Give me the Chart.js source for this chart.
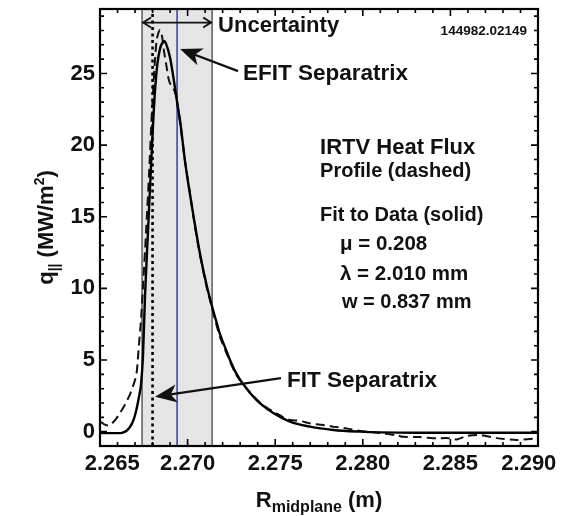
<!DOCTYPE html>
<html>
<head>
<meta charset="utf-8">
<script src="https://cdn.jsdelivr.net/npm/chart.js@4.4.1/dist/chart.umd.min.js"></script>
<style>
  html, body { margin: 0; padding: 0; background: #fff; }
  #wrap { width: 569px; height: 516px; }
</style>
</head>
<body>
<div id="wrap"><canvas id="c" width="569" height="516"></canvas></div>
<script>
const FONT = "'Liberation Sans', Arial, Helvetica, sans-serif";

// Fitted profile (solid): R_midplane (m) and q_par (MW/m^2)
const fitR = [2.26500, 2.26600, 2.26630, 2.26655, 2.26675, 2.26695, 2.26710, 2.26722, 2.26734, 2.26745,
              2.26757, 2.26774, 2.26791, 2.26803, 2.26814, 2.26828, 2.26842, 2.26854, 2.26868, 2.26882,
              2.26900, 2.26914, 2.26928, 2.26945, 2.26957, 2.26985, 2.27004, 2.27033, 2.27071, 2.27109,
              2.27134, 2.27166, 2.27185, 2.27223, 2.27242, 2.27276, 2.27318, 2.27394, 2.27489, 2.27584,
              2.27699, 2.27832, 2.27984, 2.28100, 2.28300, 2.29000];
const fitQ = [-0.10, -0.10, -0.06, 0.10, 0.40, 0.95, 1.65, 2.40, 3.30, 5.20,
              9.50, 14.0, 18.5, 21.5, 23.8, 25.7, 26.7, 27.1, 27.25, 26.9,
              26.1, 25.1, 24.0, 22.6, 21.7, 18.9, 17.3, 15.1, 12.4, 10.2,
              9.0, 7.6, 6.8, 5.6, 5.0, 4.1, 3.3, 2.2, 1.3, 0.70,
              0.35, 0.12, 0.0, -0.05, -0.08, -0.08];

// IRTV heat flux profile (dashed)
const irtvR = [2.26500, 2.26520, 2.26538, 2.26557, 2.26586, 2.26614, 2.26643, 2.26671, 2.26700, 2.26711,
               2.26722, 2.26734, 2.26745, 2.26763, 2.26780, 2.26795, 2.26810, 2.26824, 2.26842, 2.26854,
               2.26866, 2.26881, 2.26890, 2.26900, 2.26914, 2.26933, 2.26957, 2.26985, 2.27014, 2.27042,
               2.27071, 2.27109, 2.27134, 2.27166, 2.27185, 2.27223, 2.27242, 2.27276, 2.27318, 2.27356,
               2.27394, 2.27442, 2.27489, 2.27527, 2.27565, 2.27642, 2.27699, 2.27773, 2.27832, 2.27908,
               2.27984, 2.28024, 2.28098, 2.28193, 2.28229, 2.28326, 2.28422, 2.28479, 2.28536, 2.28593,
               2.28669, 2.28764, 2.28878, 2.29000];
const irtvQ = [0.70, 0.55, 0.45, 0.45, 0.80, 1.30, 1.90, 2.60, 3.60, 4.30,
               6.00, 7.80, 10.0, 14.0, 18.0, 22.0, 25.2, 27.4, 28.05, 27.6,
               26.5, 25.4, 24.7, 24.3, 24.1, 23.5, 21.6, 18.9, 16.6, 14.3,
               12.3, 10.1, 8.9, 7.4, 6.6, 5.45, 4.9, 4.0, 3.3, 2.75,
               2.25, 1.75, 1.40, 1.15, 0.85, 0.75, 0.58, 0.46, 0.35, 0.23,
               0.05, 0.0, -0.10, -0.25, -0.36, -0.38, -0.47, -0.45, -0.54, -0.30,
               -0.24, -0.45, -0.58, -0.45];

// Separatrix positions and the uncertainty band around the EFIT one
const efitSeparatrix = 2.2694;
const fitSeparatrix = 2.2680;
const uncertaintyBand = [2.2674, 2.2714];

// Axes
const xRange = [2.265, 2.290];
const yRange = [-1, 29.5];
const xTicks = [2.265, 2.270, 2.275, 2.280, 2.285, 2.290];
const yTicks = [0, 5, 10, 15, 20, 25];
const xMinorStep = 0.001;
const yMinorStep = 1;

// Text notes placed in data coordinates (left/right edge, baseline)
const notes = [
  { text: 'Uncertainty', r: 2.27174, q: 27.92, size: 22, align: 'left' },
  { text: '144982.02149', r: 2.28937, q: 27.68, size: 13.5, align: 'right' },
  { text: 'EFIT Separatrix', r: 2.27316, q: 24.52, size: 22.5, align: 'left' },
  { text: 'IRTV Heat Flux', r: 2.27756, q: 19.37, size: 22, align: 'left' },
  { text: 'Profile (dashed)', r: 2.27756, q: 17.80, size: 20, align: 'left' },
  { text: 'Fit to Data (solid)', r: 2.27756, q: 14.73, size: 20, align: 'left' },
  { text: '\u03bc = 0.208', r: 2.27870, q: 12.71, size: 20.5, align: 'left' },
  { text: '\u03bb = 2.010 mm', r: 2.27870, q: 10.58, size: 20.5, align: 'left' },
  { text: 'w = 0.837 mm', r: 2.27881, q: 8.60, size: 20, align: 'left' },
  { text: 'FIT Separatrix', r: 2.27567, q: 3.15, size: 22.5, align: 'left' }
];

// Pointer arrows: from label towards the separatrix lines
const pointers = [
  { from: [2.27288, 25.16], to: [2.26957, 26.70] },
  { from: [2.27533, 3.74], to: [2.26814, 2.44] }
];
const uncertaintyArrowQ = 28.55;

const pts = (xs, ys) => xs.map((x, i) => ({ x: x, y: ys[i] }));
const vline = (x) => [{ x: x, y: yRange[0] }, { x: x, y: yRange[1] }];

function drawHead(ctx, x1, y1, x2, y2, len, hw) {
  const a = Math.atan2(y2 - y1, x2 - x1);
  const c = Math.cos(a), s = Math.sin(a);
  const bx = x2 - c * len, by = y2 - s * len;
  ctx.beginPath();
  ctx.moveTo(x2, y2);
  ctx.lineTo(bx - s * hw, by + c * hw);
  ctx.lineTo(x2 - c * len * 0.72, y2 - s * len * 0.72);
  ctx.lineTo(bx + s * hw, by - c * hw);
  ctx.closePath();
  ctx.fill();
  return [x2 - c * len * 0.72, y2 - s * len * 0.72];
}

function drawRuns(ctx, runs, x, y) {
  // runs: [text, size, baselineShift]
  let cx = x;
  for (const [t, size, dy] of runs) {
    ctx.font = 'bold ' + size + 'px ' + FONT;
    ctx.fillText(t, cx, y + dy);
    cx += ctx.measureText(t).width;
  }
}
function runsWidth(ctx, runs) {
  let w = 0;
  for (const [t, size] of runs) {
    ctx.font = 'bold ' + size + 'px ' + FONT;
    w += ctx.measureText(t).width;
  }
  return w;
}

const decor = {
  id: 'decor',
  beforeDraw(chart) {
    const ctx = chart.ctx;
    ctx.save();
    ctx.fillStyle = '#ffffff';
    ctx.fillRect(0, 0, chart.width, chart.height);
    ctx.restore();
  },
  afterDatasetsDraw(chart) {
    const ctx = chart.ctx;
    const { left, right, top, bottom } = chart.chartArea;
    const xs = chart.scales.x, ys = chart.scales.y;
    ctx.save();
    ctx.strokeStyle = '#000';
    ctx.lineWidth = 1.6;
    // inward tick marks on all four sides
    const nx = Math.round((xRange[1] - xRange[0]) / xMinorStep);
    for (let i = 0; i <= nx; i++) {
      const v = xRange[0] + i * xMinorStep;
      const major = xTicks.some(t => Math.abs(t - v) < 1e-9);
      const len = major ? 7 : 4;
      const px = xs.getPixelForValue(v);
      ctx.beginPath();
      ctx.moveTo(px, bottom); ctx.lineTo(px, bottom - len);
      ctx.moveTo(px, top); ctx.lineTo(px, top + len);
      ctx.stroke();
    }
    for (let v = Math.ceil(yRange[0]); v <= yRange[1]; v += yMinorStep) {
      const major = yTicks.includes(v);
      const len = major ? 7 : 4;
      const py = ys.getPixelForValue(v);
      ctx.beginPath();
      ctx.moveTo(left, py); ctx.lineTo(left + len, py);
      ctx.moveTo(right, py); ctx.lineTo(right - len, py);
      ctx.stroke();
    }
    ctx.lineWidth = 2.2;
    ctx.strokeRect(left, top, right - left, bottom - top);
    ctx.restore();
  },
  afterDraw(chart) {
    const ctx = chart.ctx;
    const xs = chart.scales.x, ys = chart.scales.y;
    const ca = chart.chartArea;
    const X = v => xs.getPixelForValue(v), Y = v => ys.getPixelForValue(v);
    ctx.save();
    ctx.fillStyle = '#111';
    ctx.strokeStyle = '#111';
    ctx.textBaseline = 'alphabetic';

    // notes
    for (const n of notes) {
      ctx.font = 'bold ' + n.size + 'px ' + FONT;
      ctx.textAlign = n.align;
      ctx.fillText(n.text, X(n.r), Y(n.q));
    }
    ctx.textAlign = 'left';

    // pointer arrows
    ctx.lineWidth = 2.4;
    for (const p of pointers) {
      const x1 = X(p.from[0]), y1 = Y(p.from[1]), x2 = X(p.to[0]), y2 = Y(p.to[1]);
      const notch = drawHead(ctx, x1, y1, x2, y2, 22, 9);
      ctx.beginPath();
      ctx.moveTo(x1, y1); ctx.lineTo(notch[0], notch[1]);
      ctx.stroke();
    }

    // double-headed arrow spanning the uncertainty band
    const ua = X(uncertaintyBand[0]), ub = X(uncertaintyBand[1]), uy = Y(uncertaintyArrowQ);
    ctx.lineWidth = 1.8;
    ctx.beginPath();
    ctx.moveTo(ua, uy); ctx.lineTo(ub, uy);
    ctx.moveTo(ua + 9, uy - 5); ctx.lineTo(ua + 1, uy); ctx.lineTo(ua + 9, uy + 5);
    ctx.moveTo(ub - 9, uy - 5); ctx.lineTo(ub - 1, uy); ctx.lineTo(ub - 9, uy + 5);
    ctx.stroke();

    // x axis title: R_midplane (m)
    const xr = [['R', 22, 0], ['midplane', 16, 5], [' (m)', 22, 0]];
    const xw = runsWidth(ctx, xr);
    drawRuns(ctx, xr, (ca.left + ca.right) / 2 - xw / 2, 507);

    // y axis title: q_|| (MW/m^2)
    const yr = [['q', 22, 0], ['||', 14, 6], [' (MW/m', 22, 0], ['2', 14, -9], [')', 22, 0]];
    const yw = runsWidth(ctx, yr);
    ctx.translate(53, (ca.top + ca.bottom) / 2);
    ctx.rotate(-Math.PI / 2);
    drawRuns(ctx, yr, -yw / 2, 0);
    ctx.restore();
  }
};

const tickFont = { family: FONT, size: 22, weight: 'bold' };

new Chart(document.getElementById('c'), {
  type: 'line',
  data: {
    datasets: [
      { label: 'Fit to Data (solid)', data: pts(fitR, fitQ), borderColor: '#000', borderWidth: 2.4,
        pointRadius: 0, cubicInterpolationMode: 'monotone', fill: false, order: 1 },
      { label: 'IRTV Heat Flux Profile (dashed)', data: pts(irtvR, irtvQ), borderColor: '#111', borderWidth: 2,
        borderDash: [9, 5], pointRadius: 0, tension: 0.2, fill: false, order: 2 },
      { label: 'FIT Separatrix', data: vline(fitSeparatrix), borderColor: '#000', borderWidth: 2.6,
        borderDash: [3, 3.5], pointRadius: 0, fill: false, order: 0 },
      { label: 'EFIT Separatrix', data: vline(efitSeparatrix), borderColor: '#3b49a6', borderWidth: 1.6,
        pointRadius: 0, fill: false, order: 5 },
      { label: 'Uncertainty low', data: vline(uncertaintyBand[0]), borderColor: '#5c5c5c', borderWidth: 1.5,
        pointRadius: 0, fill: false, order: 6 },
      { label: 'Uncertainty high', data: vline(uncertaintyBand[1]), borderColor: '#5c5c5c', borderWidth: 1.5,
        pointRadius: 0, fill: false, order: 6 },
      { label: 'Uncertainty', data: [{ x: uncertaintyBand[0], y: yRange[1] }, { x: uncertaintyBand[1], y: yRange[1] }],
        borderWidth: 0, borderColor: 'rgba(0,0,0,0)', backgroundColor: '#e5e5e5', pointRadius: 0, fill: 'start', order: 9 }
    ]
  },
  options: {
    responsive: false,
    animation: false,
    devicePixelRatio: 1,
    layout: { padding: { left: 0, right: 31, top: 9, bottom: 0 } },
    plugins: { legend: { display: false }, tooltip: { enabled: false } },
    scales: {
      x: {
        type: 'linear', min: xRange[0], max: xRange[1],
        grid: { display: false, drawTicks: false }, border: { display: false },
        ticks: {
          font: tickFont, color: '#111', padding: 5, maxRotation: 0, autoSkip: false,
          callback: (v, i, arr) => {
            const s = Number(v).toFixed(3);
            if (i === 0) return '    ' + s;
            if (i === arr.length - 1) return s + '   ';
            return s;
          }
        },
        afterBuildTicks: s => { s.ticks = xTicks.map(v => ({ value: v })); },
        afterFit: s => { s.height = 70; s.paddingLeft = 0; s.paddingRight = 0; }
      },
      y: {
        type: 'linear', min: yRange[0], max: yRange[1],
        grid: { display: false, drawTicks: false }, border: { display: false },
        ticks: { font: tickFont, color: '#111', padding: 5, callback: v => String(v) },
        afterBuildTicks: s => { s.ticks = yTicks.map(v => ({ value: v })); },
        afterFit: s => { s.width = 100; s.paddingTop = 0; s.paddingBottom = 0; }
      }
    }
  },
  plugins: [decor]
});
</script>
</body>
</html>
